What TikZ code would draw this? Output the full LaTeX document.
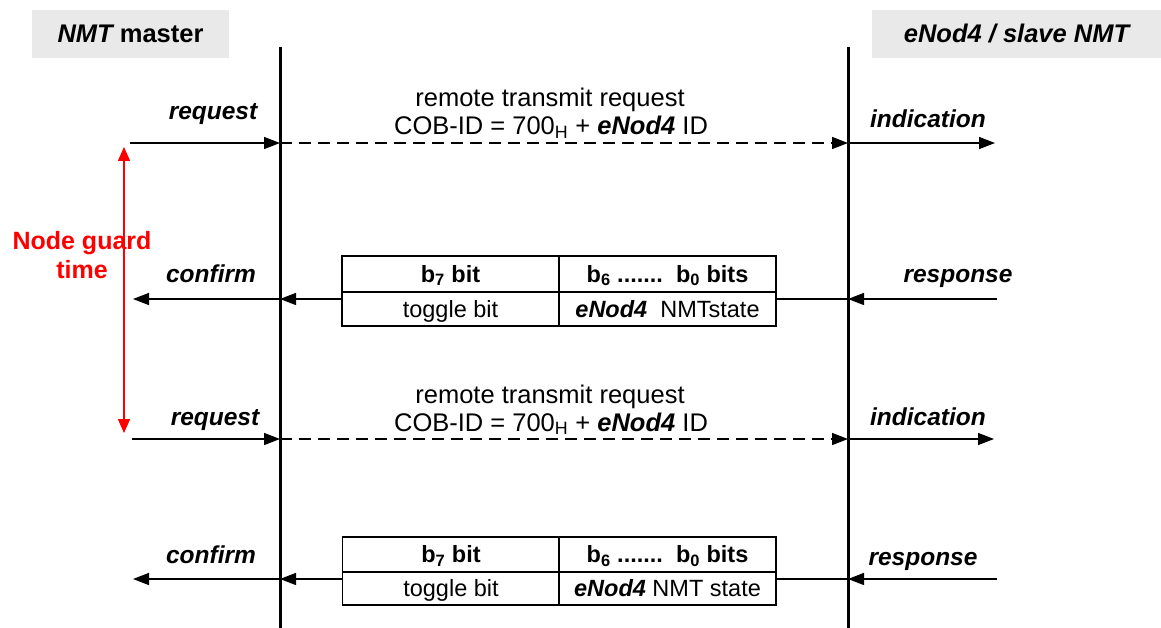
\documentclass[tikz,border=0pt]{standalone}
\usepackage{fontspec}
\setmainfont{Liberation Sans}
\usetikzlibrary{arrows.meta}
\definecolor{hdrgray}{RGB}{233,233,233}
\newcommand{\lblfont}{\fontsize{24.5}{29}\selectfont\bfseries\itshape}
\newcommand{\msgfont}{\fontsize{25.5}{30}\selectfont}
\newcommand{\tabfont}{\fontsize{23.5}{28}\selectfont}
\begin{document}
\begin{tikzpicture}[x=1pt,y=-1pt,
  hdr/.style={fill=hdrgray, draw=none, inner sep=0, font=\fontsize{25.5}{30}\selectfont\bfseries},
  lbl/.style={font=\lblfont, inner sep=0, anchor=base},
  msg/.style={font=\msgfont, inner sep=0, anchor=base},
  life/.style={line width=3pt, black},
  arr/.style={line width=1.5pt, -{Triangle[length=16pt,width=12pt]}},
  dasharr/.style={arr, dash pattern=on 12pt off 7pt},
  plain/.style={line width=1.5pt},
  cell/.style={draw, line width=1.3pt, minimum width=217pt, inner sep=0, font=\tabfont, text height=18pt, text depth=2pt},
  guard/.style={red, line width=1.5pt, {Triangle[length=14pt,width=12pt]}-{Triangle[length=14pt,width=12pt]}},
  guardlbl/.style={red, font=\fontsize{25}{30}\selectfont\bfseries, inner sep=0, anchor=base}
]
\useasboundingbox (0,0) rectangle (1161,628);

% headers
\node[hdr, minimum width=197pt, minimum height=48pt] (mhdr) at (130.5,34) {\itshape NMT\upshape\ master};
\node[hdr, minimum width=289pt, minimum height=48pt] (shdr) at (1016.5,34) {\itshape eNod4 / slave NMT};

% lifelines
\coordinate (mtop) at (280,47);
\coordinate (mbot) at (280,628);
\coordinate (stop) at (848,47);
\coordinate (sbot) at (848,628);
\draw[life] (mtop) -- (mbot);
\draw[life] (stop) -- (sbot);

% row 1
\coordinate (r1a) at (130,143);
\coordinate (r1m) at (mtop |- r1a);
\coordinate (r1s) at (stop |- r1a);
\coordinate (r1e) at (995,143);
\draw[arr] (r1a) -- (r1m);
\draw[dasharr] (r1m) -- (r1s);
\draw[arr] (r1s) -- (r1e);
\node[lbl] (req1) at (213,120) {request};
\node[lbl] (ind1) at (928,128) {indication};
\node[msg] (m1a) at (550,107) {remote transmit request};
\node[msg] (m1b) at (551,135) {COB-ID = 700\textsubscript{H} + \textbf{\textit{eNod4}} ID};

% node guard time
\coordinate (g1) at (124,147);
\coordinate (g2) at (124,433);
\draw[guard] (g1) -- (g2);
\node[guardlbl] (ng1) at (82,250) {Node guard};
\node[guardlbl] (ng2) at (82,278) {time};

% row 2 table
\node[cell, minimum height=36pt] (t1a) at (450.5,274) {\textbf{b\textsubscript{7} bit}};
\node[cell, minimum height=36pt] (t1b) at (667.5,274) {\textbf{b\textsubscript{6} .......\ \ b\textsubscript{0} bits}};
\node[cell, minimum height=34pt] (t1c) at (450.5,309) {toggle bit};
\node[cell, minimum height=34pt] (t1d) at (667.5,309) {\textbf{\textit{eNod4}}\ \ NMTstate};
\coordinate (r2e) at (997,299);
\coordinate (r2s) at (stop |- r2e);
\coordinate (r2m) at (mtop |- r2e);
\coordinate (r2a) at (133,299);
\draw[arr] (r2e) -- (r2s);
\draw[plain] (r2s) -- (t1d.east |- r2e);
\draw[arr] (t1c.west |- r2e) -- (r2m);
\draw[arr] (r2m) -- (r2a);
\node[lbl] (conf2) at (211,282) {confirm};
\node[lbl] (resp2) at (958,282) {response};

% row 3
\coordinate (r3a) at (132,439);
\coordinate (r3m) at (mtop |- r3a);
\coordinate (r3s) at (stop |- r3a);
\coordinate (r3e) at (994,439);
\draw[arr] (r3a) -- (r3m);
\draw[dasharr] (r3m) -- (r3s);
\draw[arr] (r3s) -- (r3e);
\node[lbl] (req3) at (215,425) {request};
\node[lbl] (ind3) at (928,425) {indication};
\node[msg] (m3a) at (550,403) {remote transmit request};
\node[msg] (m3b) at (551,431) {COB-ID = 700\textsubscript{H} + \textbf{\textit{eNod4}} ID};

% row 4 table
\node[cell, minimum height=35pt] (t2a) at (451,554.5) {\textbf{b\textsubscript{7} bit}};
\node[cell, minimum height=35pt] (t2b) at (667.5,554.5) {\textbf{b\textsubscript{6} .......\ \ b\textsubscript{0} bits}};
\node[cell, minimum height=33pt] (t2c) at (451,588.5) {toggle bit};
\node[cell, minimum height=33pt] (t2d) at (667.5,588.5) {\textbf{\textit{eNod4}} NMT state};
\coordinate (r4e) at (997,579);
\coordinate (r4s) at (stop |- r4e);
\coordinate (r4m) at (mtop |- r4e);
\coordinate (r4a) at (133,579);
\draw[arr] (r4e) -- (r4s);
\draw[plain] (r4s) -- (t2d.east |- r4e);
\draw[arr] (t2c.west |- r4e) -- (r4m);
\draw[arr] (r4m) -- (r4a);
\node[lbl] (conf4) at (211,563) {confirm};
\node[lbl] (resp4) at (923,565) {response};
\end{tikzpicture}
\end{document}
